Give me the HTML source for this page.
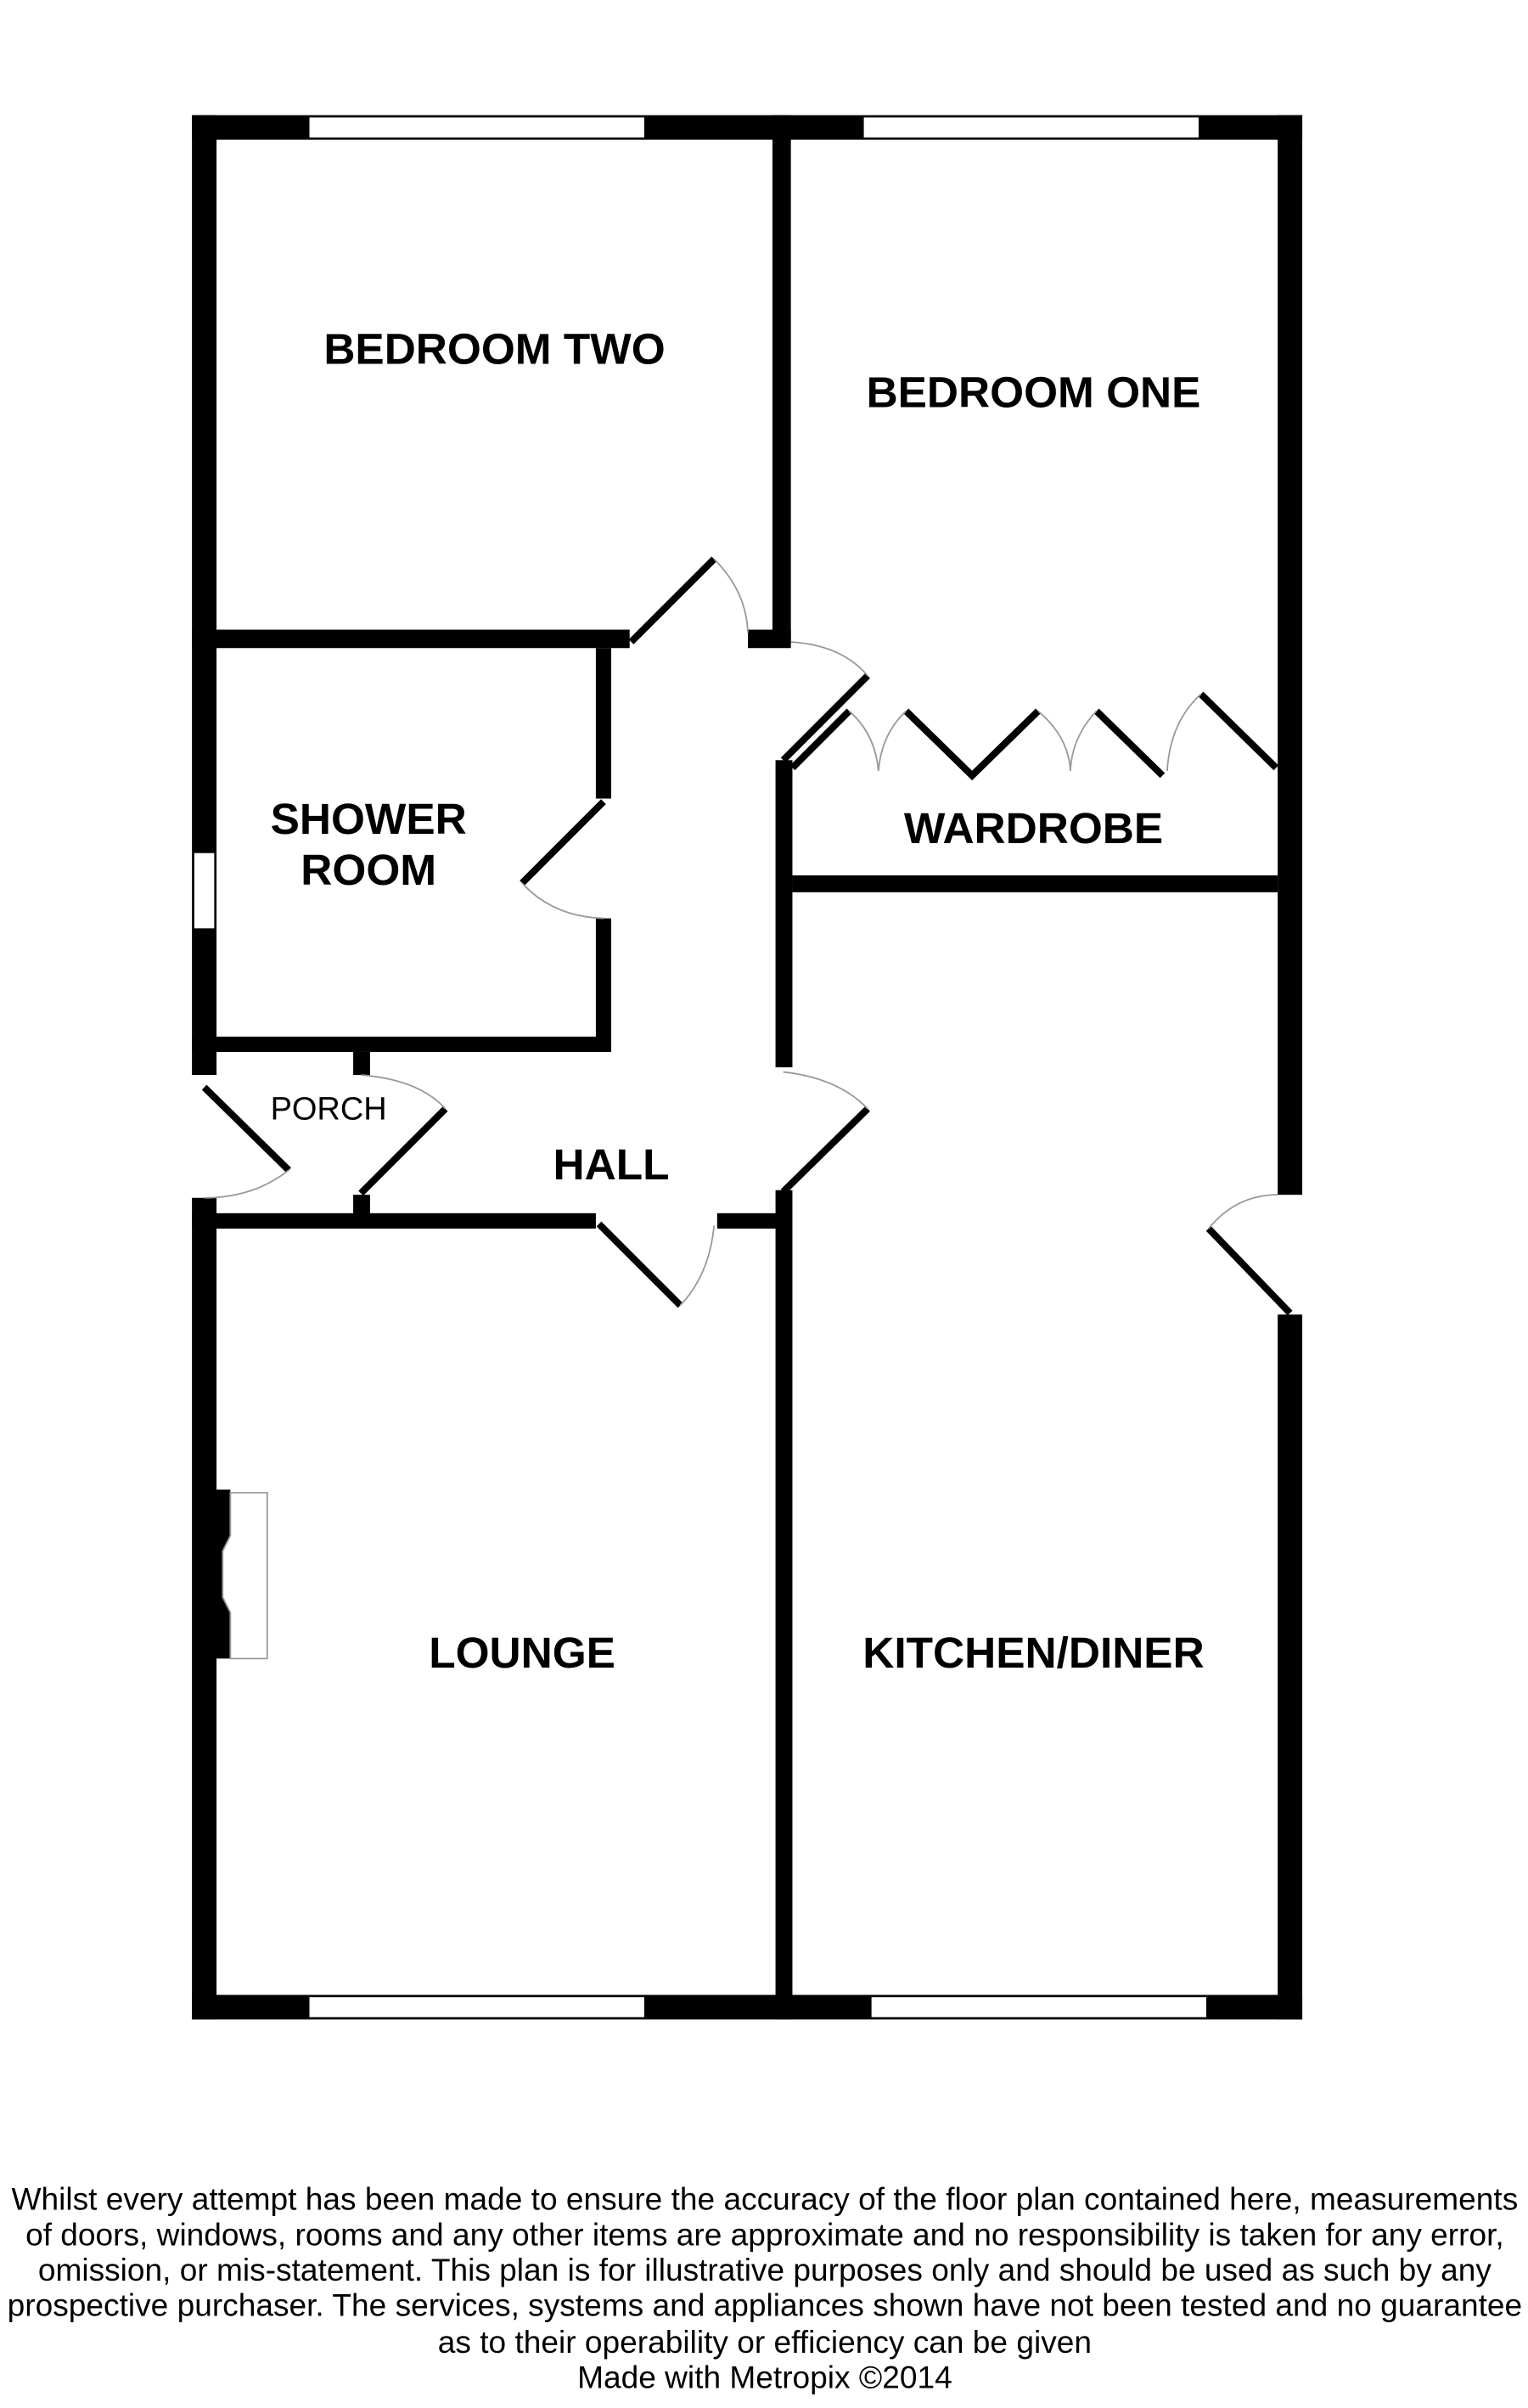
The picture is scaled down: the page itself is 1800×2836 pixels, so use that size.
<!DOCTYPE html>
<html><head><meta charset="utf-8"><style>
html,body{margin:0;padding:0;background:#fff;width:1800px;height:2836px;overflow:hidden}
svg{display:block}
text{font-family:"Liberation Sans",Arial,sans-serif;fill:#000}
</style></head><body>
<svg width="1800" height="2836" viewBox="0 0 995 1568" preserveAspectRatio="none" xmlns="http://www.w3.org/2000/svg">
<g fill="#000">
<rect x="125" y="75" width="723" height="16"/>
<rect x="125" y="1299" width="723" height="16"/>
<rect x="125" y="75" width="16" height="625"/>
<rect x="125" y="780" width="16" height="535"/>
<rect x="832" y="75" width="16" height="703"/>
<rect x="832" y="856" width="16" height="459"/>
<rect x="503" y="75" width="12" height="345"/>
<rect x="125" y="410" width="285" height="12"/>
<rect x="487" y="410" width="28" height="12"/>
<rect x="505" y="495" width="11" height="200"/>
<rect x="505" y="775" width="11" height="540"/>
<rect x="516" y="570" width="316" height="11"/>
<rect x="388" y="422" width="10" height="98"/>
<rect x="388" y="598" width="10" height="87"/>
<rect x="125" y="675" width="273" height="10"/>
<rect x="230" y="685" width="11" height="15"/>
<rect x="230" y="778" width="11" height="17"/>
<rect x="125" y="790" width="263" height="10"/>
<rect x="467" y="790" width="44" height="10"/>
<rect x="135" y="970" width="15" height="110"/>
</g>
<g fill="#fff" stroke="#000" stroke-width="1">
<rect x="201" y="76" width="219" height="14"/>
<rect x="562" y="76" width="219" height="14"/>
<rect x="201" y="1300" width="219" height="14"/>
<rect x="567" y="1300" width="219" height="14"/>
<rect x="126" y="555" width="14" height="50"/>
<path d="M150 972 H174 V1080 H150 V1050 L145 1040 V1010 L150 1000 Z" stroke="#999"/>
</g>
<g stroke="#000" stroke-width="4.5" fill="none">
<line x1="411" y1="418" x2="465" y2="364"/>
<line x1="510" y1="495" x2="565" y2="440"/>
<line x1="516" y1="500" x2="553" y2="463"/>
<polyline points="590,463 633,505 676,463"/>
<line x1="714" y1="463" x2="757" y2="505"/>
<line x1="782" y1="452" x2="831" y2="500"/>
<line x1="393" y1="522" x2="340" y2="575"/>
<line x1="133" y1="708" x2="188" y2="762"/>
<line x1="290" y1="722" x2="235" y2="777"/>
<line x1="565" y1="722" x2="510" y2="776"/>
<line x1="390" y1="797" x2="443" y2="850"/>
<line x1="787" y1="800" x2="840" y2="855"/>
</g>
<g stroke="#999" stroke-width="1" fill="none">
<path d="M465 364 Q486 385 487 412"/>
<path d="M515 418 Q548 420 565 440"/>
<path d="M553 463 Q570 478 572 502"/>
<path d="M590 463 Q574 478 572 502"/>
<path d="M676 463 Q696 480 697 502"/>
<path d="M714 463 Q698 480 697 502"/>
<path d="M782 452 Q762 470 760 502"/>
<path d="M340 575 Q360 597 393 598"/>
<path d="M188 762 Q165 780 133 780"/>
<path d="M235 700 Q273 703 290 722"/>
<path d="M510 698 Q546 702 565 722"/>
<path d="M443 850 Q462 830 465 798"/>
<path d="M787 800 Q805 778 832 778"/>
</g>
<g font-size="28.4" font-weight="bold" text-anchor="middle">
<text x="322" y="237">BEDROOM TWO</text>
<text x="673" y="265">BEDROOM ONE</text>
<text x="240" y="543">SHOWER</text>
<text x="240" y="576">ROOM</text>
<text x="673" y="549">WARDROBE</text>
<text x="398" y="768">HALL</text>
<text x="340" y="1086">LOUNGE</text>
<text x="673" y="1086">KITCHEN/DINER</text>
</g>
<text x="214" y="729" font-size="21" text-anchor="middle">PORCH</text>
<g font-size="20.5" text-anchor="middle">
<text x="498" y="1439">Whilst every attempt has been made to ensure the accuracy of the floor plan contained here, measurements</text>
<text x="498" y="1462">of doors, windows, rooms and any other items are approximate and no responsibility is taken for any error,</text>
<text x="498" y="1485">omission, or mis-statement. This plan is for illustrative purposes only and should be used as such by any</text>
<text x="498" y="1508">prospective purchaser. The services, systems and appliances shown have not been tested and no guarantee</text>
<text x="498" y="1532">as to their operability or efficiency can be given</text>
<text x="498" y="1555">Made with Metropix ©2014</text>
</g>
</svg>
</body></html>
